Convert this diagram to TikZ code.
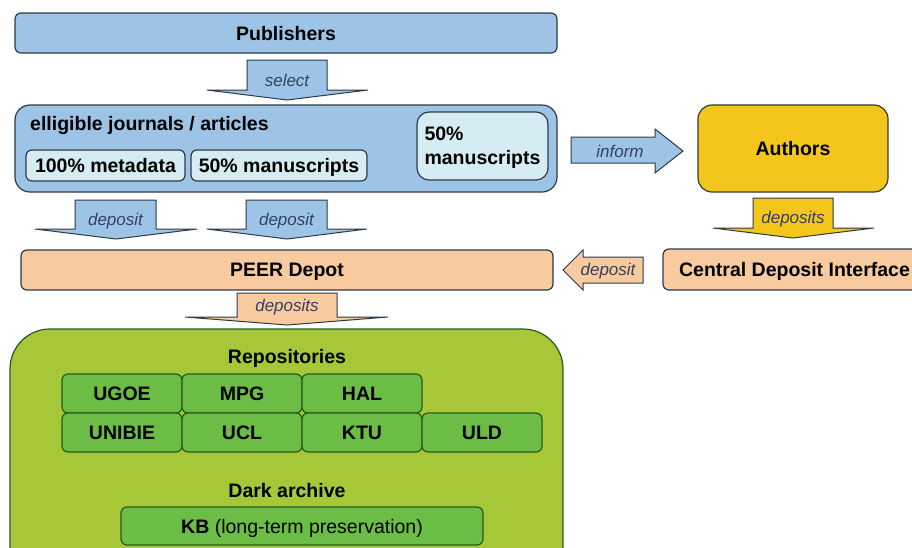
\documentclass[tikz,border=0pt]{standalone}
\usepackage{fontspec}
\setmainfont{Liberation Sans}
\usetikzlibrary{positioning,calc}
\definecolor{pubblue}{RGB}{157,196,230}
\definecolor{paleblue}{RGB}{214,236,243}
\definecolor{peach}{RGB}{248,202,160}
\definecolor{gold}{RGB}{244,198,28}
\definecolor{lime}{RGB}{166,199,56}
\definecolor{leaf}{RGB}{108,189,70}
\definecolor{edge}{RGB}{45,58,70}
\definecolor{leafedge}{RGB}{40,90,30}
\definecolor{labeltext}{RGB}{50,66,96}
\tikzset{
    box/.style={draw=edge, line width=1.2pt, rounded corners=6pt, inner sep=0pt, outer sep=0pt,
        text depth=0pt, font=\bfseries\fontsize{19.5}{24}\selectfont},
    pubbox/.style={box, fill=pubblue},
    subbox/.style={box, fill=paleblue},
    depotbox/.style={box, fill=peach},
    cell/.style={box, draw=leafedge, fill=leaf, minimum width=120pt, minimum height=39pt},
    title/.style={font=\bfseries\fontsize{19.5}{24}\selectfont, inner sep=0pt},
    blockarrow/.style={draw=edge, line width=1pt, line join=miter},
    arrtext/.style={font=\itshape\fontsize{17}{20}\selectfont, text=labeltext, inner sep=0pt}
}

\begin{document}
\begin{tikzpicture}[x=1pt, y=-1pt]
    \useasboundingbox (0,0) rectangle (912,547);
    \clip (0,0) rectangle (912,547);

    % publishers and selected journals
    \node[pubbox, minimum width=542pt, minimum height=40pt] (pub) at (286,33) {Publishers};
    \node[pubbox, rounded corners=15pt, minimum width=542pt, minimum height=87pt] (elig) at (286,148.5) {};
    \node[title, anchor=base west] (eligtitle) at (30,130) {elligible journals / articles};
    \node[subbox, minimum width=159pt, minimum height=31pt] (meta) at (105.5,165.5) {100\% metadata};
    \node[subbox, minimum width=176pt, minimum height=31pt, right=6pt of meta] (manu) {50\% manuscripts};
    \node[subbox, rounded corners=12pt, minimum width=131pt, minimum height=68pt, align=left] (manuB) at (482.5,146) {50\%\\manuscripts};

    % authors side
    \node[box, fill=gold, rounded corners=14pt, minimum width=190pt, minimum height=87pt] (authors) at (793,148.5) {Authors};
    \node[depotbox, minimum width=263pt, minimum height=41pt] (cdi) at (794.5,269.5) {Central Deposit Interface};

    % depot
    \node[depotbox, minimum width=532pt, minimum height=40pt] (peer) at (287,270) {PEER Depot};

    % repositories
    \node[box, draw=leafedge, fill=lime, rounded corners=40pt, minimum width=553pt, minimum height=260pt, anchor=north] (repo) at (286.5,329) {};
    \node[title, anchor=base] (replbl) at (287,363) {Repositories};
    \node[cell] (ugoe) at (122,393.5) {UGOE};
    \node[cell, right=0pt of ugoe] (mpg) {MPG};
    \node[cell, right=0pt of mpg] (hal) {HAL};
    \node[cell, below=0pt of ugoe] (unibie) {UNIBIE};
    \node[cell, right=0pt of unibie] (ucl) {UCL};
    \node[cell, right=0pt of ucl] (ktu) {KTU};
    \node[cell, right=0pt of ktu] (uld) {ULD};
    \node[title, anchor=base] (darklbl) at (287,497) {Dark archive};
    \node[cell, minimum width=362pt, minimum height=38pt, font=\fontsize{19.5}{24}\selectfont] (kb) at (302,526) {\textbf{KB} (long-term preservation)};

    % block arrows
    \filldraw[blockarrow, fill=pubblue] (247,60) -- (327,60) -- (327,90) -- (368,90) -- (287,100) -- (207,90) -- (247,90) -- cycle;
    \node[arrtext, anchor=base] (sel) at (287,86) {select};
    \filldraw[blockarrow, fill=pubblue] (75,200) -- (156,200) -- (156,229) -- (197,229) -- (116,239) -- (35,229) -- (75,229) -- cycle;
    \node[arrtext, anchor=base] (dep1) at (115.5,225) {deposit};
    \filldraw[blockarrow, fill=pubblue] (246,200) -- (327,200) -- (327,229) -- (367,229) -- (287,239) -- (207,229) -- (246,229) -- cycle;
    \node[arrtext, anchor=base] (dep2) at (286.5,225) {deposit};
    \filldraw[blockarrow, fill=pubblue] (571,137) -- (655,137) -- (655,129) -- (683,151) -- (655,173) -- (655,163) -- (571,163) -- cycle;
    \node[arrtext, anchor=base] (inf) at (620,157) {inform};
    \filldraw[blockarrow, fill=gold] (753,198) -- (833,198) -- (833,228) -- (874,228) -- (793,238) -- (713,228) -- (753,228) -- cycle;
    \node[arrtext, anchor=base] (dep3) at (793,223) {deposits};
    \filldraw[blockarrow, fill=peach] (643,257) -- (643,283) -- (583,283) -- (583,290) -- (563,270) -- (583,250) -- (583,257) -- cycle;
    \node[arrtext, anchor=base] (dep4) at (608,275) {deposit};
    \filldraw[blockarrow, fill=peach] (237,293) -- (337,293) -- (337,317) -- (388,317) -- (287,325) -- (185,317) -- (237,317) -- cycle;
    \node[arrtext, anchor=base] (dep5) at (287,311) {deposits};
\end{tikzpicture}
\end{document}
